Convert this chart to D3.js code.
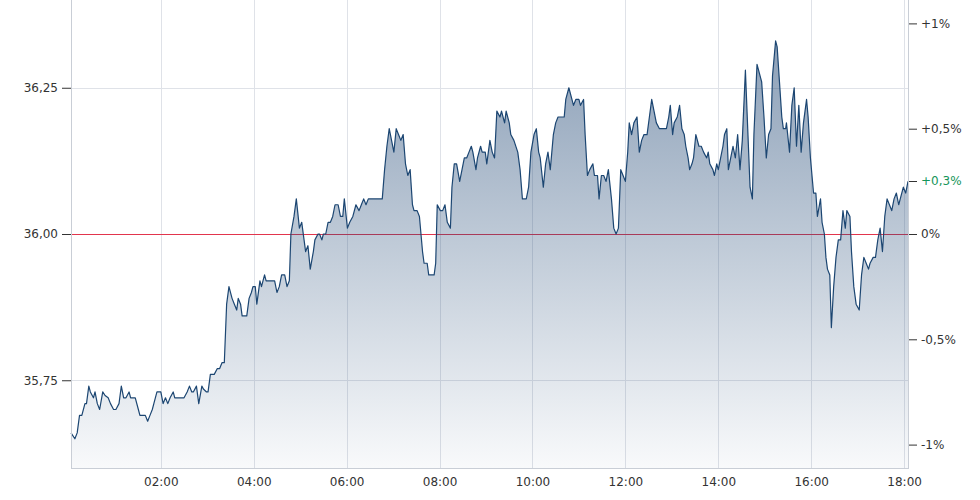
<!DOCTYPE html>
<html><head><meta charset="utf-8">
<script src="https://cdn.jsdelivr.net/npm/d3@7"></script>
<style>html,body{margin:0;padding:0;background:#fff;} svg{display:block;font-family:"DejaVu Sans",Verdana,sans-serif;}</style>
</head><body><svg id="chart" width="980" height="500"></svg>
<script>
// ---- data ----
const times = [
"00:04","00:09","00:12","00:15","00:18","00:22","00:24","00:27","00:29","00:33","00:35","00:38","00:41","00:45","00:48","00:52","00:55","00:59",
"01:02","01:06","01:09","01:12","01:15","01:19","01:21","01:25","01:27","01:31","01:33","01:37","01:40","01:43","01:46","01:49","01:51","01:55",
"02:00","02:03","02:06","02:09","02:12","02:16","02:18","02:22","02:25","02:30","02:34","02:37","02:40","02:42","02:46","02:49","02:53","02:55","02:59",
"03:01","03:04","03:09","03:13","03:16","03:19","03:22","03:25","03:28","03:32","03:35","03:38","03:40","03:43","03:45","03:49","03:51","03:54","03:57","03:59",
"04:02","04:04","04:08","04:10","04:14","04:16","04:20","04:23","04:27","04:30","04:33","04:36","04:40","04:43","04:46","04:48","04:52","04:55","04:59",
"05:02","05:05","05:07","05:10","05:13","05:17","05:19","05:23","05:25","05:28","05:30","05:33","05:36","05:39","05:42","05:45","05:49","05:52","05:55","05:57",
"06:01","06:04","06:08","06:12","06:16","06:19","06:22","06:25","06:28","06:32","06:39","06:46","06:49","06:52","06:55","06:58",
"07:01","07:04","07:07","07:10","07:13","07:16","07:19","07:22","07:25","07:27","07:31","07:34","07:36","07:38","07:40","07:44","07:46","07:53","07:55","07:57",
"08:01","08:04","08:07","08:10","08:14","08:16","08:19","08:22","08:26","08:29","08:32","08:35","08:38","08:41","08:43","08:47","08:49","08:53","08:55","08:59",
"09:01","09:05","09:08","09:11","09:14","09:18","09:20","09:24","09:26","09:30","09:32","09:36","09:41","09:44","09:47","09:52","09:55","09:58",
"10:02","10:05","10:08","10:10","10:14","10:17","10:20","10:23","10:27","10:30","10:33","10:41","10:43","10:47","10:49","10:53","10:56",
"11:00","11:02","11:06","11:08","11:11","11:14","11:18","11:20","11:24","11:26","11:29","11:32","11:35","11:38","11:42","11:45","11:48","11:51","11:54","11:57",
"12:00","12:03","12:05","12:08","12:11","12:15","12:18","12:21","12:24","12:28","12:31","12:34","12:37","12:40","12:44","12:53","12:56","12:58",
"13:01","13:03","13:07","13:10","13:13","13:16","13:18","13:21","13:23","13:26","13:28","13:31","13:35","13:38","13:41","13:45","13:47","13:49","13:53","13:55","13:58",
"14:00","14:03","14:06","14:08","14:11","14:13","14:16","14:19","14:22","14:25","14:28","14:31","14:35","14:38","14:41","14:44","14:46","14:50","14:52","14:56","14:59",
"15:02","15:05","15:08","15:10","15:14","15:16","15:19","15:22","15:24","15:27","15:28","15:32","15:35","15:38","15:41","15:44","15:47","15:50","15:54","15:56","15:59",
"16:01","16:03","16:06","16:08","16:12","16:14","16:17","16:19","16:21","16:24","16:26","16:29","16:32","16:35","16:38","16:41","16:44","16:46","16:50","16:52","16:55","16:58",
"17:02","17:05","17:08","17:11","17:14","17:16","17:20","17:23","17:26","17:29","17:32","17:35","17:38","17:41","17:44","17:47","17:50","17:53","17:55","17:59",
"18:02","18:05"
];
const prices = [
35.66,35.65,35.66,35.69,35.69,35.71,35.71,35.74,35.73,35.72,35.73,35.71,35.70,35.73,35.724,35.72,35.71,35.70,
35.70,35.71,35.74,35.72,35.72,35.73,35.72,35.72,35.72,35.70,35.69,35.69,35.69,35.68,35.69,35.70,35.71,35.73,
35.73,35.71,35.72,35.71,35.72,35.73,35.72,35.72,35.72,35.72,35.73,35.74,35.73,35.73,35.74,35.71,35.74,35.735,35.73,
35.73,35.76,35.76,35.77,35.77,35.78,35.78,35.88,35.91,35.89,35.88,35.87,35.89,35.88,35.86,35.86,35.86,35.89,35.90,35.91,
35.91,35.88,35.92,35.91,35.93,35.92,35.92,35.92,35.92,35.90,35.91,35.93,35.93,35.91,35.92,36.00,36.03,36.06,36.01,
36.02,35.99,35.97,35.98,35.94,35.97,35.99,36.00,36.00,35.99,36.00,36.00,36.02,36.02,36.03,36.05,36.05,36.03,36.03,36.06,
36.01,36.02,36.03,36.05,36.04,36.05,36.06,36.05,36.06,36.06,36.06,36.06,36.11,36.15,36.18,36.16,
36.14,36.18,36.17,36.16,36.17,36.12,36.10,36.11,36.05,36.04,36.04,36.03,36.00,35.97,35.95,35.95,35.93,35.93,35.95,36.05,
36.04,36.04,36.05,36.02,36.01,36.08,36.12,36.12,36.09,36.11,36.13,36.13,36.14,36.15,36.14,36.11,36.13,36.15,36.14,36.14,
36.12,36.16,36.14,36.13,36.21,36.20,36.21,36.19,36.21,36.19,36.17,36.16,36.14,36.11,36.06,36.06,36.08,36.14,
36.17,36.18,36.14,36.13,36.08,36.12,36.14,36.11,36.17,36.19,36.20,36.20,36.23,36.25,36.24,36.22,36.23,
36.23,36.22,36.23,36.17,36.10,36.11,36.12,36.10,36.10,36.06,36.10,36.10,36.09,36.11,36.06,36.01,36.00,36.01,36.11,36.10,
36.09,36.14,36.19,36.17,36.19,36.20,36.14,36.16,36.17,36.17,36.20,36.23,36.21,36.19,36.18,36.18,36.20,36.22,
36.17,36.19,36.20,36.22,36.18,36.17,36.15,36.13,36.11,36.12,36.13,36.17,36.15,36.15,36.14,36.13,36.14,36.12,36.11,36.10,36.12,
36.11,36.13,36.15,36.17,36.18,36.11,36.13,36.15,36.13,36.17,36.11,36.16,36.28,36.18,36.08,36.06,36.17,36.29,36.28,36.26,36.20,
36.13,36.17,36.18,36.27,36.33,36.32,36.26,36.20,36.18,36.18,36.19,36.14,36.22,36.25,36.15,36.22,36.14,36.19,36.23,36.20,36.13,
36.10,36.07,36.07,36.03,36.06,36.02,36.00,35.96,35.94,35.93,35.84,35.91,35.96,35.99,35.99,36.04,36.01,36.04,36.03,35.97,35.91,35.88,
35.87,35.93,35.96,35.95,35.94,35.95,35.96,35.96,35.99,36.01,35.97,36.03,36.06,36.05,36.04,36.06,36.07,36.05,36.06,36.08,
36.07,36.09
];
const referencePrice = 36.00;
const priceTicks = [35.75, 36.00, 36.25];
const pctTicks = [-1, -0.5, 0, 0.5, 1];
const timeTicks = ["02:00","04:00","06:00","08:00","10:00","12:00","14:00","16:00","18:00"];
const timeRange = ["00:04","18:05"];
const priceRange = [35.6, 36.4];

// ---- layout ----
const svg = d3.select("#chart");
const L = 71, R = 908, T = 0, B = 468;
const parse = d3.timeParse("%H:%M");
const data = times.map((t, i) => ({ t: parse(t), v: prices[i] }));

const x = d3.scaleTime().domain(timeRange.map(parse)).range([L, R]);
const y = d3.scaleLinear().domain(priceRange).range([B, T]);
const yPct = d3.scaleLinear()
  .domain(priceRange.map(p => (p / referencePrice - 1) * 100))
  .range([B, T]);

const deNum = (v, d) => v.toFixed(d).replace(".", ",");
const gridColor = "#dfe2e8";
const textColor = "#333";

// gradient
const defs = svg.append("defs");
const grad = defs.append("linearGradient").attr("id", "fillGrad")
  .attr("gradientUnits", "userSpaceOnUse")
  .attr("x1", 0).attr("y1", T).attr("x2", 0).attr("y2", B);
grad.append("stop").attr("offset", 0).attr("stop-color", "#1f4674").attr("stop-opacity", 0.56);
grad.append("stop").attr("offset", 1).attr("stop-color", "#1f4674").attr("stop-opacity", 0.03);

// grid
const grid = svg.append("g").attr("shape-rendering", "crispEdges");
grid.selectAll(".vg").data(timeTicks).join("line")
  .attr("x1", d => Math.round(x(parse(d))) + 0.5).attr("x2", d => Math.round(x(parse(d))) + 0.5)
  .attr("y1", T).attr("y2", B).attr("stroke", gridColor);
grid.selectAll(".hg").data(priceTicks.filter(p => p !== referencePrice)).join("line")
  .attr("x1", L).attr("x2", R).attr("y1", d => Math.round(y(d)) + 0.5).attr("y2", d => Math.round(y(d)) + 0.5)
  .attr("stroke", gridColor);

// reference line
svg.append("line").attr("x1", L).attr("x2", R)
  .attr("y1", Math.round(y(referencePrice)) + 0.5).attr("y2", Math.round(y(referencePrice)) + 0.5)
  .attr("stroke", "#e2354d").attr("stroke-width", 1).attr("shape-rendering", "crispEdges");

// area + line
const area = d3.area().x(d => x(d.t)).y0(B).y1(d => y(d.v));
const line = d3.line().x(d => x(d.t)).y(d => y(d.v));
svg.append("path").datum(data).attr("d", area).attr("fill", "url(#fillGrad)");
svg.append("path").datum(data).attr("d", line).attr("fill", "none")
  .attr("stroke", "#1c4672").attr("stroke-width", 1.2).attr("stroke-linejoin", "round");

// frame lines
const frame = svg.append("g").attr("stroke", "#c9ced6").attr("shape-rendering", "crispEdges");
frame.append("line").attr("x1", L + 0.5).attr("x2", L + 0.5).attr("y1", T).attr("y2", B + 1);
frame.append("line").attr("x1", R + 0.5).attr("x2", R + 0.5).attr("y1", T).attr("y2", B + 1);
frame.append("line").attr("x1", L).attr("x2", R + 1).attr("y1", B + 0.5).attr("y2", B + 0.5);

// axes
function styleAxis(g) {
  g.select(".domain").remove();
  g.selectAll(".tick line").attr("stroke", textColor);
  g.selectAll(".tick text").attr("fill", textColor).attr("font-size", 12)
    .attr("font-family", '"DejaVu Sans",Verdana,sans-serif');
}
svg.append("g").attr("transform", `translate(${L},0)`)
  .call(d3.axisLeft(y).tickValues(priceTicks).tickSize(9).tickPadding(4).tickFormat(d => deNum(d, 2)))
  .call(styleAxis);

svg.append("g").attr("transform", `translate(${R + 1},0)`)
  .call(d3.axisRight(yPct).tickValues(pctTicks).tickSize(8).tickPadding(4)
    .tickFormat(d => (d > 0 ? "+" : d < 0 ? "-" : "") + deNum(Math.abs(d), Number.isInteger(d) ? 0 : 1) + "%"))
  .call(styleAxis);

svg.append("g").attr("transform", `translate(0,${B})`)
  .call(d3.axisBottom(x).tickValues(timeTicks.map(parse)).tickSize(0).tickPadding(9).tickFormat(d3.timeFormat("%H:%M")))
  .call(styleAxis);

// last value marker on right axis
const last = data[data.length - 1];
const lastPct = (last.v / referencePrice - 1) * 100;
const lastG = svg.append("g").attr("transform", `translate(${R + 1},${y(last.v)})`);
lastG.append("line").attr("x1", 0).attr("x2", 8).attr("stroke", textColor).attr("shape-rendering", "crispEdges");
lastG.append("text").attr("x", 12).attr("dy", "0.32em").attr("font-size", 12)
  .attr("fill", lastPct >= 0 ? "#16955a" : "#d0323f")
  .text((lastPct >= 0 ? "+" : "-") + deNum(Math.abs(lastPct), 1) + "%");
</script></body></html>
